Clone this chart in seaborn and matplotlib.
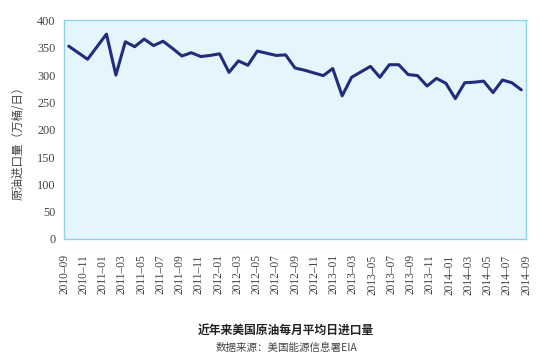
import matplotlib
matplotlib.use('Agg')
import numpy as np
import pandas as pd
import matplotlib.pyplot as plt
import seaborn as sns

# ---------------------------
# Data, monthly 2010-09 .. 2014-09
# ---------------------------
months = pd.date_range("2010-09-01", "2014-09-01", freq="MS").strftime("%Y-%m").tolist()
imports = [353, 341, 329, 352, 375, 300, 361, 352, 366, 354,
           362, 349, 335, 341, 334, 336, 339, 305, 326, 318,
           344, 340, 336, 337, 313, 309, 304, 299, 312, 262,
           296, 306, 316, 296, 319, 319, 301, 299, 280, 294,
           285, 257, 286, 287, 289, 268, 291, 286, 273]
tick_labels = [m.replace("-", "\u2013") for m in months[::2]]
y_ticks = list(range(0, 401, 50))

df = pd.DataFrame({"pos": np.arange(len(imports)), "month": months, "imports": imports})

# ---------------------------
# Style
# ---------------------------
sns.set_style("white")
plt.rcParams['font.family'] = ['Noto Sans CJK SC', 'DejaVu Sans']

edge = "#8fd2ec"
bg = "#e5f5fc"
line_c = "#232c7c"
text_c = "#444444"

fig = plt.figure(figsize=(5.5, 3.53), dpi=100)
ax = fig.add_axes([0.1164, 0.323, 0.8400, 0.619])
ax.set_facecolor(bg)

sns.lineplot(data=df, x="pos", y="imports", color=line_c, linewidth=2.2, ax=ax)

n = len(imports)
ax.set_xlim(-0.5, n - 0.5)
ax.set_ylim(0, 400)
ax.set_xticks(np.linspace(-0.5, n - 0.5, len(tick_labels)))
ax.set_xticklabels(tick_labels, rotation=90, family="Liberation Serif",
                   fontsize=8.3, color=text_c)
ax.set_yticks(y_ticks)
ax.set_yticklabels([str(v) for v in y_ticks], family="Liberation Serif",
                   fontsize=8.8, color=text_c)
ax.tick_params(axis="x", direction="in", length=3, color=edge, pad=11)
ax.tick_params(axis="y", direction="in", length=3, color=edge, pad=6)
for s in ax.spines.values():
    s.set_color(edge)
    s.set_linewidth(1.0)

ax.set_xlabel("")
ax.set_ylabel("原油进口量（万桶/日）", fontsize=8.3, color=text_c)
ax.yaxis.set_label_coords(-0.085, 0.45)

fig.text(0.52, 0.065, "近年来美国原油每月平均日进口量", ha="center", va="center",
         fontsize=8.5, fontweight="bold", color="#222222")
fig.text(0.52, 0.016, "数据来源：美国能源信息署EIA", ha="center", va="center",
         fontsize=7.6, color=text_c)

fig.savefig("out.png", dpi=100)
plt.close(fig)
